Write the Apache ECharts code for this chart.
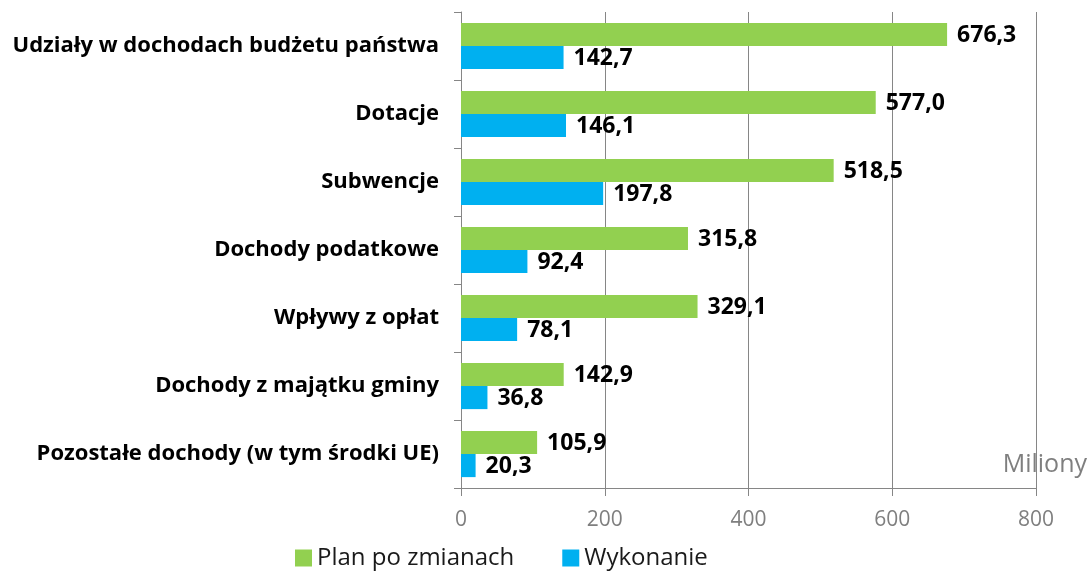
<!DOCTYPE html>
<html lang="pl">
<head>
    <meta charset="UTF-8">
    <title>Dochody</title>
    <script src="https://cdn.jsdelivr.net/npm/echarts@6/dist/echarts.min.js"></script>
</head>
<body style="margin:0">
    <div id="main" style="width: 1090px;height:574px;"></div>
    <script type="text/javascript">
        const categories = [
            'Udziały w dochodach budżetu państwa',
            'Dotacje',
            'Subwencje',
            'Dochody podatkowe',
            'Wpływy z opłat',
            'Dochody z majątku gminy',
            'Pozostałe dochody (w tym środki UE)'
        ];
        const planValues = [676.3, 577.0, 518.5, 315.8, 329.1, 142.9, 105.9];
        const execValues = [142.7, 146.1, 197.8, 92.4, 78.1, 36.8, 20.3];
        const xTicks = [0, 200, 400, 600, 800];

        const font = '"Open Sans", Calibri, sans-serif';
        const fmt = p => p.value.toFixed(1).replace('.', ',');
        const barLabel = {
            show: true,
            position: 'right',
            distance: 10,
            offset: [0, 1],
            formatter: fmt,
            color: '#000',
            fontFamily: font,
            fontWeight: 'bold',
            fontSize: 23
        };

        let myChart = echarts.init(document.getElementById('main'));
        myChart.setOption({
            animation: false,
            grid: { left: 461, right: 54, top: 12, bottom: 86, containLabel: false },
            legend: {
                top: 541,
                left: 290,
                itemWidth: 17,
                itemHeight: 17,
                itemGap: 48,
                icon: 'rect',
                textStyle: { fontFamily: font, fontSize: 24, color: '#1a1a1a' },
                data: ['Plan po zmianach', 'Wykonanie']
            },
            xAxis: {
                type: 'value',
                min: xTicks[0],
                max: xTicks[xTicks.length - 1],
                interval: 200,
                axisLine: { show: true, lineStyle: { color: '#868686' } },
                axisTick: { show: true, length: 8, lineStyle: { color: '#868686' } },
                axisLabel: { fontFamily: font, fontSize: 21, color: '#7f7f7f', margin: 22 },
                splitLine: { show: true, lineStyle: { color: '#868686' } }
            },
            yAxis: {
                type: 'category',
                inverse: true,
                data: categories,
                axisLine: { show: true, lineStyle: { color: '#868686' } },
                axisTick: { show: true, length: 7, lineStyle: { color: '#868686' } },
                axisLabel: { fontFamily: font, fontSize: 22, fontWeight: 'bold', color: '#000', margin: 22 }
            },
            graphic: [{
                type: 'text',
                right: 3,
                top: 452,
                style: { text: 'Miliony', fontFamily: font, fontSize: 25, fill: '#7f7f7f' }
            }],
            series: [{
                name: 'Plan po zmianach',
                type: 'bar',
                data: planValues,
                barGap: '0%',
                barCategoryGap: '32%',
                itemStyle: { color: '#92D050' },
                label: barLabel
            }, {
                name: 'Wykonanie',
                type: 'bar',
                data: execValues,
                itemStyle: { color: '#00B0F0' },
                label: barLabel
            }]
        });
    </script>
</body>
</html>
